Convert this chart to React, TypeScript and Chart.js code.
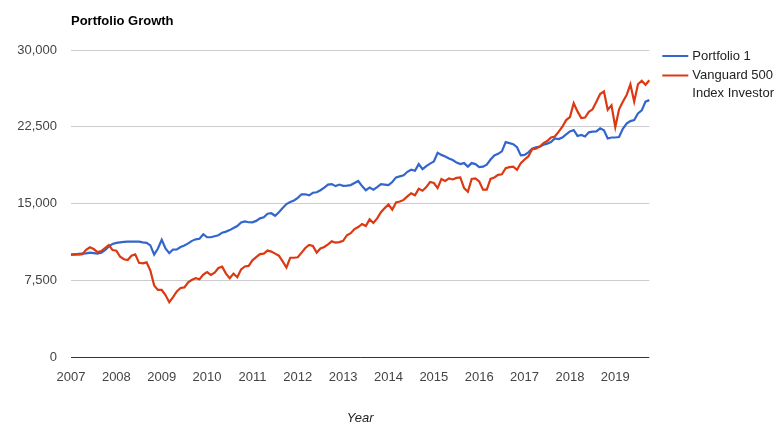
import { useEffect, useRef } from 'react';
import { Chart, registerables } from 'chart.js';

Chart.register(...registerables);

const TITLE = 'Portfolio Growth';
const X_AXIS_TITLE = 'Year';
const SERIES_NAMES = ['Portfolio 1', 'Vanguard 500 Index Investor'];
const LEGEND_LINES = [['Portfolio 1'], ['Vanguard 500', 'Index Investor']];
const SERIES_COLORS = ['#3366cc', '#dc3912'];
const YEARS = ['2007', '2008', '2009', '2010', '2011', '2012', '2013', '2014', '2015', '2016', '2017', '2018', '2019'];
const Y_TICKS = [0, 7500, 15000, 22500, 30000];

// Monthly balance, start of each month from Jan 2007 to Oct 2019
const PORTFOLIO_1 = [
  10000, 10000, 10070, 10100, 10130, 10190, 10150, 10100, 10200, 10450, 10800, 11050,
  11150, 11200, 11250, 11270, 11280, 11280, 11270, 11200, 11150, 10900, 10000, 10600,
  11450, 10600, 10150, 10500, 10520, 10750, 10900, 11100, 11350, 11500, 11550, 12000,
  11700, 11700, 11800, 11900, 12150, 12250, 12400, 12600, 12800, 13150, 13250, 13170,
  13160, 13300, 13550, 13650, 14000, 14050, 13800, 14150, 14550, 14950, 15150, 15300,
  15550, 15900, 15900, 15800, 16050, 16100, 16300, 16550, 16850, 16900, 16700, 16850,
  16720, 16750, 16800, 17000, 17200, 16700, 16300, 16550, 16350, 16600, 16900, 16850,
  16800, 17100, 17550, 17650, 17750, 18100, 18300, 18200, 18850, 18350, 18650, 18900,
  19100, 19950, 19750, 19600, 19400, 19250, 19000, 18850, 18950, 18600, 18950, 18850,
  18550, 18600, 18800, 19300, 19700, 19850, 20100, 21000, 20900, 20800, 20500, 19700,
  19750, 20000, 20350, 20500, 20550, 20750, 20850, 21000, 21350, 21300, 21450, 21750,
  22050, 22180, 21600, 21700, 21550, 21950, 22020, 22050, 22350, 22150, 21350, 21450,
  21450, 21500, 22300, 22800, 23050, 23150, 23800, 24100, 24950, 25100,
];

const VANGUARD_500 = [
  10000, 10050, 10000, 10050, 10480, 10720, 10550, 10250, 10350, 10650, 10940, 10450,
  10390, 9800, 9550, 9480, 9900, 10030, 9200, 9150, 9250, 8450, 7000, 6550,
  6550, 6050, 5350, 5850, 6400, 6750, 6800, 7300, 7550, 7700, 7600, 8050,
  8300, 8020, 8250, 8700, 8830, 8150, 7700, 8150, 7800, 8550, 8850, 8900,
  9450, 9750, 10050, 10100, 10400, 10300, 10100, 9900, 9350, 8750, 9700, 9700,
  9750, 10200, 10650, 10950, 10850, 10200, 10600, 10750, 11000, 11300, 11170, 11230,
  11350, 11900, 12100, 12500, 12700, 13000, 12800, 13450, 13100, 13550, 14150, 14550,
  14900, 14400, 15100, 15200, 15350, 15700, 16000, 15800, 16450, 16250, 16600, 17100,
  17000, 16500, 17400, 17200, 17450, 17350, 17500, 17550, 16500, 16150, 17400, 17450,
  17150, 16350, 16350, 17400, 17550, 17800, 17850, 18450, 18550, 18600, 18300, 18950,
  19300, 19600, 20300, 20350, 20550, 20900, 21100, 21450, 21550, 22000, 22500, 23150,
  23450, 24800, 24000, 23350, 23400, 23950, 24200, 24950, 25700, 25950, 24150, 24600,
  22450, 24200, 24950, 25600, 26650, 24950, 26650, 27000, 26600, 27050,
];

const MONTH_CODES = ['01', '02', '03', '04', '05', '06', '07', '08', '09', '10', '11', '12'];
const CATEGORIES: string[] = [];
for (const y of YEARS) {
  for (const m of MONTH_CODES) {
    if (CATEGORIES.length < PORTFOLIO_1.length) CATEGORIES.push(`${y}-${m}`);
  }
}

const FONT = "Arial, 'Liberation Sans', sans-serif";

const overlayPlugin = {
  id: 'overlay',
  afterDraw(chart: any) {
    const { ctx, chartArea } = chart;
    ctx.save();
    ctx.fillStyle = '#000';
    ctx.font = `bold 13px ${FONT}`;
    ctx.textAlign = 'left';
    ctx.textBaseline = 'middle';
    ctx.fillText(TITLE, chartArea.left, 21);

    const lineX0 = chartArea.right + 13;
    const lineX1 = lineX0 + 26;
    const textX = lineX1 + 4;
    let y = 56;
    LEGEND_LINES.forEach((lines, i) => {
      ctx.strokeStyle = SERIES_COLORS[i];
      ctx.lineWidth = 2;
      ctx.beginPath();
      ctx.moveTo(lineX0, y);
      ctx.lineTo(lineX1, y);
      ctx.stroke();
      ctx.fillStyle = '#222';
      ctx.font = `13px ${FONT}`;
      ctx.textBaseline = 'middle';
      lines.forEach((t, j) => {
        ctx.fillText(t, textX, y + j * 18);
      });
      y += 19.5 + (lines.length - 1) * 18;
    });
    ctx.restore();
  },
};

export default function App() {
  const ref = useRef<HTMLCanvasElement | null>(null);
  useEffect(() => {
    if (!ref.current) return;
    const chart = new Chart(ref.current, {
      type: 'line',
      data: {
        labels: CATEGORIES,
        datasets: [
          {
            label: SERIES_NAMES[0],
            data: PORTFOLIO_1,
            borderColor: SERIES_COLORS[0],
            backgroundColor: SERIES_COLORS[0],
            borderWidth: 2.2,
            pointRadius: 0,
            tension: 0,
            order: 1,
          },
          {
            label: SERIES_NAMES[1],
            data: VANGUARD_500,
            borderColor: SERIES_COLORS[1],
            backgroundColor: SERIES_COLORS[1],
            borderWidth: 2.2,
            pointRadius: 0,
            tension: 0,
            order: 0,
          },
        ],
      },
      options: {
        animation: false,
        responsive: false,
        devicePixelRatio: 1,
        layout: { padding: { left: 0, top: 50, right: 134.7, bottom: 0 } },
        plugins: {
          legend: { display: false },
          title: { display: false },
          tooltip: { enabled: false },
        },
        scales: {
          x: {
            type: 'category',
            offset: false,
            grid: { display: false, drawTicks: false },
            border: { display: false },
            ticks: {
              autoSkip: false,
              maxRotation: 0,
              minRotation: 0,
              padding: 13,
              color: '#444',
              font: { family: FONT, size: 13 },
              callback: function (this: any, value: any) {
                const lab = String(this.getLabelForValue(value));
                return lab.endsWith('-01') ? lab.slice(0, 4) : '';
              },
            },
            title: {
              display: true,
              text: X_AXIS_TITLE,
              color: '#222',
              font: { family: FONT, size: 13, style: 'italic' },
              padding: { top: 0, bottom: 0 },
            },
            afterFit: (scale: any) => {
              scale.height = 69;
            },
          },
          y: {
            min: 0,
            max: 30000,
            grid: {
              drawTicks: false,
              color: (c: any) => (c.tick && c.tick.value === 0 ? '#333' : '#ccc'),
              lineWidth: 1,
            },
            border: { display: false },
            afterBuildTicks: (axis: any) => {
              axis.ticks = Y_TICKS.map((v) => ({ value: v }));
            },
            ticks: {
              padding: 14,
              color: '#444',
              font: { family: FONT, size: 13 },
              callback: (v: any) => Number(v).toLocaleString('en-US'),
            },
            afterFit: (scale: any) => {
              scale.width = 71;
            },
          },
        },
      },
      plugins: [overlayPlugin],
    });
    return () => chart.destroy();
  }, []);
  return (
    <div style={{ position: 'fixed', left: 0, top: 0, width: 784, height: 426, background: '#fff' }}>
      <canvas ref={ref} width={784} height={426} />
    </div>
  );
}
